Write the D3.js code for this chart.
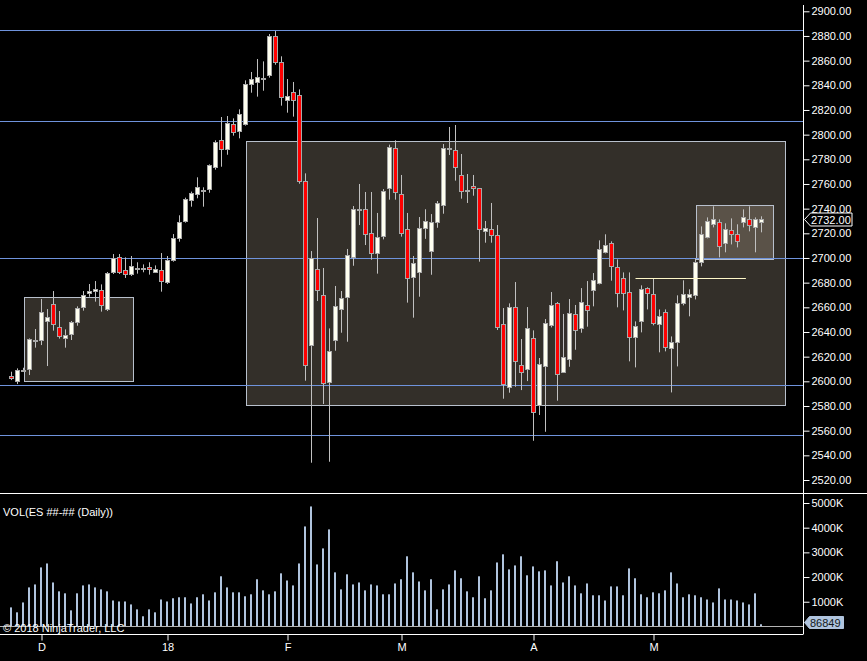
<!DOCTYPE html>
<html>
<head>
<meta charset="utf-8">
<script src="https://cdn.jsdelivr.net/npm/d3@7"></script>
<style>
  html, body { margin: 0; padding: 0; background: #000; }
  svg text { font-family: "Liberation Sans", Arial, sans-serif; font-size: 11px; fill: #fff; }
</style>
</head>
<body>
<svg id="chart"></svg>
<script>
// Daily bars (ES, late Nov 2017 - mid May 2018)
const opens = [2604.3,2600.5,2609.3,2610.2,2633.5,2633.2,2648.3,2662.4,2643.7,2634.8,2638.1,2647.8,2659.7,2671.1,2672.7,2673.8,2658.1,2688.1,2700.8,2690,
  2686.5,2691.9,2691.9,2692.4,2688.9,2690,2680,2698.3,2715.9,2730,2746.5,2751.6,2755.4,2755.4,2773.8,2795.4,2787.8,2808.3,2802.4,2808.6,
  2840.8,2842.4,2846.2,2847.8,2879.7,2858.6,2828.4,2834.3,2831.9,2762.1,2628.9,2690.8,2669.7,2598.9,2632.9,2658.1,2667.8,2700.5,2740,2739.4,
  2720,2703.7,2718.1,2756.2,2788.9,2751.6,2723.2,2684.3,2688.1,2724,2705.1,2728.6,2742.7,2789.4,2787.3,2767,2755.4,2758.1,2756.5,2721.6,
  2723.2,2718.3,2646.2,2595.1,2660,2612.9,2609.4,2634.8,2580.8,2612.1,2645.4,2663.2,2607.3,2617.8,2654.3,2642.9,2661.6,2673.7,2679.2,2704.6,
  2711.9,2692.4,2683.5,2672.1,2635.6,2648.6,2675.4,2670.5,2646.2,2655.9,2626.7,2631.6,2663.2,2668.1,2669.7,2696.5,2716.7,2727.3,2728.9,2711.9,
  2722.4,2719.2,2728.9,2731.3,2724.8,2729.7];
const highs = [2607.8,2610.5,2611,2634.8,2642.4,2666.7,2658.6,2673.2,2657,2642.1,2648.9,2660.8,2673.2,2678.9,2681.3,2678.6,2688.6,2703.2,2703.2,2700.5,
  2701.6,2696.5,2694.8,2696.5,2694,2704,2701.6,2719.4,2734.6,2748.9,2753.8,2765.4,2757.3,2775.9,2795.4,2814.3,2815.1,2813.2,2820.5,2844,
  2850.8,2861.3,2859.4,2881.6,2884,2863.5,2845.1,2842.7,2836.7,2768.6,2705.6,2732.4,2691.9,2642.9,2677.3,2673.2,2707.3,2742.1,2760,2753.5,
  2753.5,2736.5,2755.9,2791.9,2795.4,2767.3,2736.5,2701.6,2733.2,2739.5,2735.6,2746.2,2792.4,2806.2,2807.8,2784.3,2768.1,2767.3,2756.5,2730,
  2744.6,2726.7,2659.4,2663.2,2680.5,2634.3,2660.2,2641.3,2618.9,2650.5,2672.4,2664.3,2654.6,2666.7,2661.9,2675.6,2681.3,2687.8,2714.3,2719.2,
  2713.5,2698.9,2688.3,2688.3,2648.6,2677.8,2676.2,2683.5,2658.3,2658.3,2636.4,2669.7,2681.9,2674.6,2699.7,2725.6,2732.9,2741.9,2731.3,2728.1,
  2732.1,2727.3,2739.4,2741.9,2732.9,2733.8];
const lows = [2601,2597.8,2608,2605.1,2627.3,2629.4,2612.4,2641.1,2634.6,2627.3,2633.5,2645.1,2657.3,2668.6,2664.6,2656.5,2657,2687,2687,2683.8,
  2685.4,2687.3,2688.4,2686.5,2688.1,2672.7,2678.9,2697,2713.2,2728.6,2741.6,2748.4,2741.6,2752.9,2771.6,2774,2783.7,2799.2,2797,2807.3,
  2834,2830.8,2835.6,2846.2,2856.7,2823.5,2817.8,2814.6,2760.2,2600.5,2534,2665.1,2581.6,2534.8,2624.8,2639.4,2632.1,2693.7,2726.7,2710.5,
  2698.6,2687.3,2715.1,2747.3,2747.3,2717.3,2663.8,2651.6,2668.6,2715.5,2686.4,2724.5,2735.9,2783.5,2762.7,2748.1,2744.6,2750.5,2697,2712.4,
  2712.4,2641.6,2585.9,2590.8,2595.6,2592.9,2600.2,2551.8,2572.7,2559.1,2643.7,2584.3,2607.3,2611.8,2625.6,2639.4,2644.3,2660.8,2678.6,2703.7,
  2681.6,2660,2657.5,2616.2,2611.3,2639.7,2658.3,2645.4,2623.5,2624.3,2591,2612.1,2661.6,2652.7,2666.4,2693.2,2715.9,2724.8,2700.5,2704.6,
  2711,2708.6,2724.8,2721.6,2704.6,2720.8];
const closes = [2602.7,2609.2,2609.3,2634.3,2633.5,2655.9,2651.9,2646.2,2636.5,2637.3,2647.8,2659.2,2669.7,2673,2674.6,2661.3,2687.5,2699.7,2688.9,2686.5,
  2693.2,2691.9,2691.9,2690.5,2691.1,2680.8,2698.1,2715.9,2728.9,2747.8,2752.4,2757.3,2755.4,2775.1,2793.7,2787.8,2809.2,2801.9,2816.5,2840.8,
  2844.8,2846.5,2846.2,2879.7,2858.4,2830,2831.3,2827.5,2761.9,2612.7,2699.7,2673.5,2598.1,2624.3,2660.8,2667.3,2702.1,2739.4,2740,2719.2,
  2703.7,2716.7,2754.3,2789.7,2753.2,2720,2683.5,2695.6,2724,2729.7,2728.9,2744.3,2788.9,2789.4,2773.5,2754,2755.4,2756.4,2722.9,2724,
  2718.3,2643.7,2597.2,2660,2616.2,2607,2642.9,2574.8,2613.7,2647,2661.6,2605.6,2619.4,2655.1,2641.3,2664,2657.5,2681.9,2707,2710.2,
  2693.2,2671.3,2671.3,2635.6,2644.5,2674.6,2671.3,2647,2652.7,2627.5,2631.6,2663.2,2670.5,2670.5,2696.5,2719.2,2729.7,2731.3,2709.4,2723.2,
  2719.2,2713.5,2732.9,2726.5,2731.3,2732];
// volume in millions of contracts
const volumes = [0.77,0.57,0.97,1.58,1.70,2.39,2.55,1.78,1.42,1.34,0.65,1.34,1.66,1.70,1.58,1.50,1.42,1.05,1.01,1.01,
  0.89,0.69,0.41,0.69,0.57,1.09,1.01,1.14,1.18,1.18,0.93,1.18,1.30,1.05,1.38,2.03,1.58,1.38,1.38,1.22,
  1.30,1.91,1.46,1.30,1.42,2.15,1.86,1.66,2.55,4.05,4.86,2.51,3.16,3.93,2.19,1.50,2.11,1.70,1.78,1.46,
  1.70,1.66,1.30,1.30,1.74,1.91,2.84,2.19,1.82,1.46,1.91,0.69,1.50,1.70,2.27,1.95,1.42,1.18,2.03,1.14,
  1.46,2.59,2.92,2.31,2.47,2.84,2.07,2.43,2.23,2.27,1.66,2.64,1.78,2.03,1.66,1.34,1.74,1.26,1.26,1.05,
  1.62,1.62,1.26,2.35,1.95,1.30,1.18,1.38,1.34,1.46,2.19,1.74,1.18,1.30,1.26,1.18,1.09,0.97,1.54,1.09,
  1.09,1.05,0.97,0.89,1.34,0.086849];

const monthTickIdx = [5, 26, 46, 65, 87, 107];
const monthTickLabels = ["D", "18", "F", "M", "A", "M"];

const priceTicks = d3.range(2520, 2901, 20);
const volumeTicks = [1e6, 2e6, 3e6, 4e6, 5e6];

// drawn levels and zones (bar index / price)
const levelPrices = [2885, 2811, 2700, 2597, 2556.5];
const zoneStart = [2, 39, 114];
const zoneEnd = [20.2, 128.8, 126.8];
const zoneTop = [2668, 2794.8, 2742.7];
const zoneBottom = [2599.7, 2580.5, 2699];
const markerLine = { from: 104, to: 122.4, price: 2683.5 };

const W = 867, H = 661;
const plotRight = 803.5;

const svg = d3.select("#chart")
  .attr("width", W)
  .attr("height", H)
  .style("display", "block");

svg.append("rect").attr("width", W).attr("height", H).attr("fill", "#000");

// Scales
const x = d3.scaleLinear().domain([0, 125]).range([11.5, 761.5]);
const y = d3.scaleLinear().domain([2520, 2900]).range([480, 11.3]);
const yVol = d3.scaleLinear().domain([0, 5e6]).range([626.4, 503]);

const bars = opens.map((o, i) => ({
  i, o, h: highs[i], l: lows[i], c: closes[i], v: volumes[i] * 1e6
}));

// Zones
const zones = zoneStart.map((s, k) => ({ s, e: zoneEnd[k], t: zoneTop[k], b: zoneBottom[k] }));
svg.append("g").selectAll("rect")
  .data(zones)
  .enter()
  .append("rect")
  .attr("x", d => Math.round(x(d.s)) + 0.5)
  .attr("y", d => Math.round(y(d.t)) + 0.5)
  .attr("width", d => Math.round(x(d.e) - x(d.s)))
  .attr("height", d => Math.round(y(d.b) - y(d.t)))
  .attr("fill", "rgba(215,198,176,0.235)")
  .attr("stroke", "#b8c0cc")
  .attr("stroke-width", 1);

// Horizontal levels
svg.append("g").selectAll("line")
  .data(levelPrices)
  .enter()
  .append("line")
  .attr("x1", 0)
  .attr("x2", plotRight)
  .attr("y1", d => Math.round(y(d)) + 0.5)
  .attr("y2", d => Math.round(y(d)) + 0.5)
  .attr("stroke", "#6f93dc")
  .attr("stroke-width", 1);

// Candles
const candles = svg.append("g");
candles.selectAll(".wick")
  .data(bars)
  .enter()
  .append("line")
  .attr("class", "wick")
  .attr("x1", d => x(d.i))
  .attr("x2", d => x(d.i))
  .attr("y1", d => y(d.h))
  .attr("y2", d => y(d.l))
  .attr("stroke", "#c0c0c0")
  .attr("stroke-width", 1);

candles.selectAll(".body")
  .data(bars)
  .enter()
  .append("rect")
  .attr("class", "body")
  .attr("x", d => x(d.i) - 2)
  .attr("y", d => Math.round(y(Math.max(d.o, d.c))) + 0.5)
  .attr("width", 4)
  .attr("height", d => Math.max(1, Math.round(Math.abs(y(d.o) - y(d.c)))))
  .attr("fill", d => Math.abs(d.o - d.c) < 0.5 ? "#c0c0c0" : (d.c > d.o ? "#fffff0" : "#ff0000"))
  .attr("stroke", "#a8a8a8")
  .attr("stroke-width", 1);

// Marker line
svg.append("line")
  .attr("x1", x(markerLine.from))
  .attr("x2", x(markerLine.to))
  .attr("y1", Math.round(y(markerLine.price)) + 0.5)
  .attr("y2", Math.round(y(markerLine.price)) + 0.5)
  .attr("stroke", "#fff8c8")
  .attr("stroke-width", 1);

// Volume panel
svg.append("line")
  .attr("x1", 0).attr("x2", W)
  .attr("y1", 493.5).attr("y2", 493.5)
  .attr("stroke", "#fff");

svg.append("g").selectAll("rect")
  .data(bars)
  .enter()
  .append("rect")
  .attr("x", d => x(d.i) - 1.5)
  .attr("y", d => yVol(d.v))
  .attr("width", 2)
  .attr("height", d => yVol(0) - yVol(d.v))
  .attr("fill", "#b0c4de");

svg.append("line")
  .attr("x1", 0).attr("x2", plotRight)
  .attr("y1", 626.5).attr("y2", 626.5)
  .attr("stroke", "#b4b4b4");

svg.append("text")
  .attr("x", 3)
  .attr("y", 516)
  .text("VOL(ES ##-## (Daily))");

svg.append("text")
  .attr("x", 3)
  .attr("y", 632)
  .text("© 2018 NinjaTrader, LLC");

// Price axis
const priceAxis = svg.append("g")
  .attr("transform", `translate(${plotRight},0)`)
  .call(d3.axisRight(y).tickValues(priceTicks).tickSize(6).tickPadding(2).tickFormat(d3.format(".2f")));

const volAxis = svg.append("g")
  .attr("transform", `translate(${plotRight},0)`)
  .call(d3.axisRight(yVol).tickValues(volumeTicks).tickSize(6).tickPadding(2).tickFormat(d => (d / 1000) + "K"));

[priceAxis, volAxis].forEach(g => {
  g.select(".domain").remove();
  g.selectAll(".tick line").attr("stroke", "#fff");
  g.selectAll(".tick text")
    .attr("fill", "#fff")
    .style("font-family", "'Liberation Sans', Arial, sans-serif")
    .style("font-size", "11px");
});

svg.append("line")
  .attr("x1", plotRight).attr("x2", plotRight)
  .attr("y1", 5).attr("y2", 634)
  .attr("stroke", "#fff");

// Time axis
svg.append("line")
  .attr("x1", 0).attr("x2", plotRight)
  .attr("y1", 634.5).attr("y2", 634.5)
  .attr("stroke", "#fff");

const timeAxis = svg.append("g")
  .attr("transform", "translate(0,634.5)")
  .call(d3.axisBottom(x).tickValues(monthTickIdx).tickSize(6).tickPadding(3)
    .tickFormat((d, k) => monthTickLabels[k]));
timeAxis.select(".domain").remove();
timeAxis.selectAll(".tick line").attr("stroke", "#fff");
timeAxis.selectAll(".tick text")
  .attr("fill", "#fff")
  .style("font-family", "'Liberation Sans', Arial, sans-serif")
  .style("font-size", "11px");

// Last price marker
const last = bars[bars.length - 1];
const yl = Math.round(y(last.c)) + 0.5;
svg.append("path")
  .attr("d", `M${plotRight + 1},${yl} L${plotRight + 7},${yl - 6.5} L852,${yl - 6.5} L852,${yl + 6.5} L${plotRight + 7},${yl + 6.5} Z`)
  .attr("fill", "#000")
  .attr("stroke", "#fff");
svg.append("text")
  .attr("x", 811)
  .attr("y", yl + 4)
  .text(d3.format(".2f")(last.c));

// Last volume marker
const yv = Math.round(yVol(last.v)) - 1.5;
svg.append("path")
  .attr("d", `M${plotRight + 1},${yv} L${plotRight + 6},${yv - 6} L843.5,${yv - 6} L843.5,${yv + 6} L${plotRight + 6},${yv + 6} Z`)
  .attr("fill", "#b0c4de")
  .attr("stroke", "#b0c4de");
svg.append("text")
  .attr("x", 810)
  .attr("y", yv + 4)
  .attr("fill", "#101820")
  .style("fill", "#101820")
  .text(Math.round(last.v));
</script>
</body>
</html>
